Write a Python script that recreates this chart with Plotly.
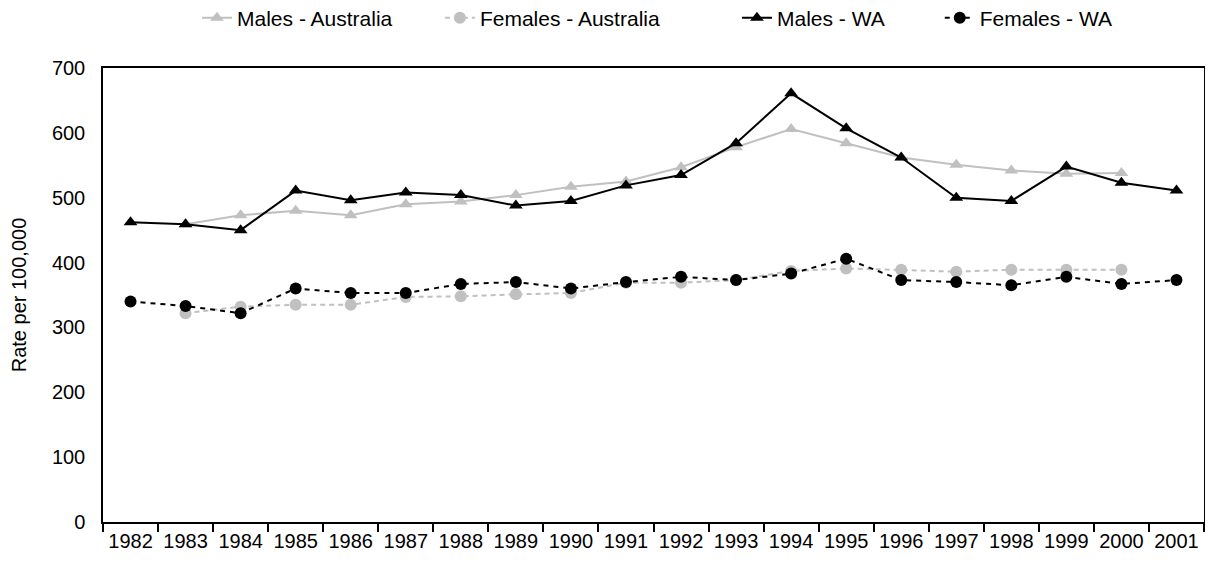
import plotly.graph_objects as go

years = [str(y) for y in range(1982, 2002)]

males_aus = [None, 459, 473, 480, 473, 490, 494, 504, 517, 525, 547, 578, 606, 584, 562, 551, 542, 537, 538, None]
females_aus = [None, 322, 332, 335, 335, 347, 348, 351, 353, 369, 369, 373, 387, 391, 389, 386, 389, 389, 389, None]
males_wa = [462, 459, 450, 511, 496, 508, 504, 488, 495, 519, 535, 584, 661, 607, 562, 500, 495, 548, 523, 511]
females_wa = [340, 333, 322, 360, 353, 353, 367, 370, 360, 370, 378, 373, 383, 406, 373, 370, 365, 378, 367, 373]

GRAY = "#C0C0C0"
FONT = "Liberation Sans, Arial, sans-serif"

fig = go.Figure()
fig.add_trace(go.Scatter(x=years, y=males_aus, name="Males - Australia", mode="lines+markers",
                         legend="legend", showlegend=True,
                         line=dict(color=GRAY, width=2),
                         marker=dict(symbol="triangle-up", size=12, color=GRAY)))
fig.add_trace(go.Scatter(x=years, y=females_aus, name="Females - Australia", mode="lines+markers",
                         legend="legend2", showlegend=True,
                         line=dict(color=GRAY, width=2, dash="5px,4px"),
                         marker=dict(symbol="circle", size=12, color=GRAY)))
fig.add_trace(go.Scatter(x=years, y=males_wa, name="Males - WA", mode="lines+markers",
                         legend="legend3", showlegend=True,
                         line=dict(color="black", width=2),
                         marker=dict(symbol="triangle-up", size=12, color="black")))
fig.add_trace(go.Scatter(x=years, y=females_wa, name="Females - WA", mode="lines+markers",
                         legend="legend4", showlegend=True,
                         line=dict(color="black", width=2, dash="5px,5px"),
                         marker=dict(symbol="circle", size=12, color="black")))

def leg(x):
    return dict(orientation="h", x=x, xanchor="left", y=1.155, yanchor="top",
                font=dict(size=21), bgcolor="rgba(0,0,0,0)", borderwidth=0, visible=True)

fig.update_layout(
    width=1197, height=560,
    showlegend=True,
    margin=dict(l=95, r=1, t=60, b=46, autoexpand=False),
    paper_bgcolor="white", plot_bgcolor="white",
    font=dict(family=FONT, size=20, color="black"),
    legend=leg(0.0854), legend2=leg(0.306), legend3=leg(0.5758), legend4=leg(0.760),
    xaxis=dict(type="category", range=[-0.5, len(years) - 0.5], tickson="boundaries",
               ticks="outside", ticklen=8,
               tickcolor="black", tickwidth=1.5, showline=True, linecolor="black",
               linewidth=1.5, mirror=True, showgrid=False, tickfont=dict(size=20),
               tickangle=0),
    yaxis=dict(range=[0, 700], dtick=100, showline=True, linecolor="black", linewidth=1.5,
               mirror=True, showgrid=False, ticks="", ticklabelstandoff=12, zeroline=False,
               tickfont=dict(size=20),
               title=dict(text="Rate per 100,000", font=dict(size=20), standoff=20)),
)

fig.write_html("out.html")
